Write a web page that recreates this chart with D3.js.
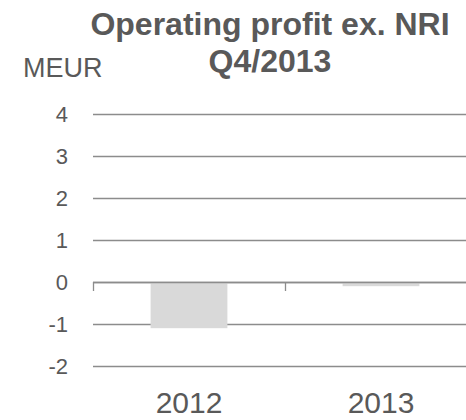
<!DOCTYPE html>
<html>
<head>
<meta charset="utf-8">
<script src="https://cdn.jsdelivr.net/npm/d3@7"></script>
<style>
  body { margin: 0; background: #fff; }
  svg text { font-family: "Liberation Sans", Arial, sans-serif; fill: #595959; }
</style>
</head>
<body>
<div id="chart"></div>
<script>
var years = ["2012", "2013"];
var profit = [-1.1, -0.1];
var yTicks = [-2, -1, 0, 1, 2, 3, 4];
var titleLines = ["Operating profit ex. NRI", "Q4/2013"];
var unitLabel = "MEUR";

var width = 466, height = 420;

var svg = d3.select("#chart").append("svg")
    .attr("width", width)
    .attr("height", height);

var x = d3.scaleBand()
    .domain(years)
    .range([93, 477])
    .paddingInner(0.6)
    .paddingOuter(0.3);

var y = d3.scaleLinear()
    .domain([-2, 4])
    .range([366, 114]);

// gridlines
svg.append("g").selectAll("line")
    .data(yTicks)
    .enter()
    .append("line")
    .attr("x1", 93)
    .attr("x2", width)
    .attr("y1", function(d){ return Math.round(y(d)) + 0.5; })
    .attr("y2", function(d){ return Math.round(y(d)) + 0.5; })
    .attr("stroke", "#8c8c8c")
    .attr("stroke-width", 1.3);

// bars
svg.append("g").selectAll("rect")
    .data(profit)
    .enter()
    .append("rect")
    .attr("x", function(d, i){ return x(years[i]); })
    .attr("width", x.bandwidth())
    .attr("y", function(d){ return y(Math.max(0, d)); })
    .attr("height", function(d){ return Math.abs(y(d) - y(0)); })
    .attr("fill", "#d9d9d9");

// category axis at zero, with ticks between categories
var step = x.step();
var ax = svg.append("g");
ax.append("line")
    .attr("x1", 93).attr("x2", width)
    .attr("y1", Math.round(y(0)) + 0.5).attr("y2", Math.round(y(0)) + 0.5)
    .attr("stroke", "#8c8c8c")
    .attr("stroke-width", 1.3);
ax.selectAll("line.tick")
    .data(d3.range(years.length + 1))
    .enter()
    .append("line")
    .attr("class", "tick")
    .attr("x1", function(i){ return 93.5 + i * step; })
    .attr("x2", function(i){ return 93.5 + i * step; })
    .attr("y1", y(0))
    .attr("y2", y(0) + 9)
    .attr("stroke", "#8c8c8c")
    .attr("stroke-width", 1.3);

// y tick labels
svg.append("g").selectAll("text")
    .data(yTicks)
    .enter()
    .append("text")
    .attr("x", 68)
    .attr("y", function(d){ return y(d); })
    .attr("dy", "0.36em")
    .attr("text-anchor", "end")
    .style("font-size", "22px")
    .text(function(d){ return d; });

// year labels
svg.append("g").selectAll("text")
    .data(years)
    .enter()
    .append("text")
    .attr("x", function(d){ return x(d) + x.bandwidth() / 2; })
    .attr("y", 413)
    .attr("text-anchor", "middle")
    .style("font-size", "30px")
    .text(function(d){ return d; });

// title
svg.append("g").selectAll("text")
    .data(titleLines)
    .enter()
    .append("text")
    .attr("x", 270)
    .attr("y", function(d, i){ return 35 + i * 37; })
    .attr("text-anchor", "middle")
    .style("font-size", "32px")
    .style("font-weight", "bold")
    .text(function(d){ return d; });

svg.append("text")
    .attr("x", 23)
    .attr("y", 77)
    .style("font-size", "27px")
    .text(unitLabel);
</script>
</body>
</html>
